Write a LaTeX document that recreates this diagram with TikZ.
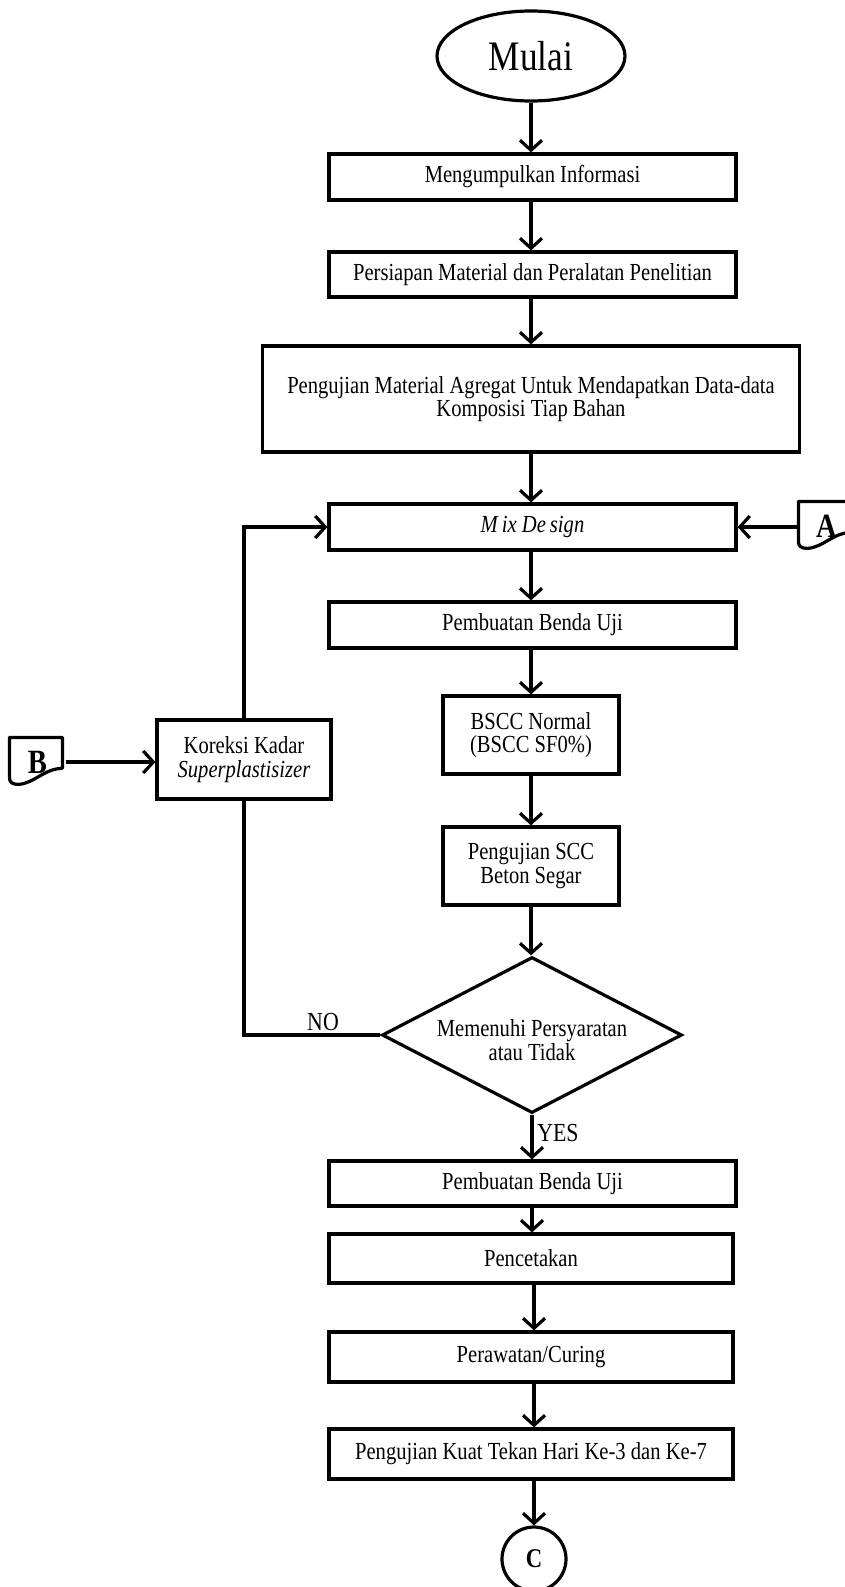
\documentclass[tikz,border=0pt]{standalone}
\usepackage{fontspec}
\setmainfont{Liberation Serif}[FakeStretch=0.84]
\usetikzlibrary{shapes.geometric,arrows.meta}
\begin{document}
\begin{tikzpicture}[x=1pt,y=-1pt,line width=3.2pt,
  txt/.style={font=\fontsize{24.5}{23.5}\selectfont, align=center},
  box/.style={draw, rectangle, inner sep=0pt, txt},
  arr/.style={-{Straight Barb[length=10pt,width=22pt]}},
  lbl/.style={font=\fontsize{26}{26}\selectfont, inner sep=0pt},
  conn/.style={font=\bfseries\fontsize{34}{34}\selectfont, inner sep=0pt, minimum width=53pt, minimum height=46pt}
  ]
\useasboundingbox (0,0) rectangle (845,1587);

\node[draw, ellipse, inner sep=0pt, minimum width=188pt, minimum height=90pt,
      font=\fontsize{42}{42}\selectfont] (mulai) at (531,56) {Mulai};
\node[box, minimum width=407pt, minimum height=46pt] (info) at (532.5,177) {Mengumpulkan Informasi};
\node[box, minimum width=407pt, minimum height=45pt] (prep) at (532.5,274.5) {Persiapan Material dan Peralatan Penelitian};
\node[box, minimum width=537pt, minimum height=106pt] (uji) at (531,399) {Pengujian Material Agregat Untuk Mendapatkan Data-data\\Komposisi Tiap Bahan};
\node[box, minimum width=407pt, minimum height=46pt] (mix) at (532.5,527) {\textit{M\,ix De\,sign}};
\node[box, minimum width=407pt, minimum height=46pt] (buat1) at (532.5,625) {Pembuatan Benda Uji};
\node[box, minimum width=176pt, minimum height=78pt] (bscc) at (531,735) {BSCC Normal\\(BSCC SF0\%)};
\node[box, minimum width=176pt, minimum height=78pt] (scc) at (531,866) {Pengujian SCC\\Beton Segar};
\node[draw, diamond, inner sep=0pt, minimum width=300pt, minimum height=156pt] (dec) at (532,1035) {};
\node[txt, inner sep=0pt] (dectxt) at (532,1040) {Memenuhi Persyaratan\\atau Tidak};
\node[box, minimum width=407pt, minimum height=45pt] (buat2) at (532.5,1183.5) {Pembuatan Benda Uji};
\node[box, minimum width=404pt, minimum height=49pt] (cetak) at (531,1258.5) {Pencetakan};
\node[box, minimum width=404pt, minimum height=50pt] (rawat) at (531,1357) {Perawatan/Curing};
\node[box, minimum width=404pt, minimum height=50pt] (kuat) at (531,1454) {Pengujian Kuat Tekan Hari Ke-3 dan Ke-7};
\node[draw, circle, inner sep=0pt, minimum size=64pt,
      font=\bfseries\fontsize{27}{27}\selectfont] (C) at (534,1559) {C};

\node[box, minimum width=174pt, minimum height=79pt] (kor) at (244,759.5) {Koreksi Kadar\\\textit{Superplastisizer}};

% off-page connectors
\node[conn] (A) at (826.5,526) {A};
\draw[line join=round] [shift={(A.north west)}] (0,0) -- (0,40) .. controls (0,45) and (3,47) .. (9,47) .. controls (25,46) and (35,31) .. (53,31) -- (53,0) -- cycle;
\node[conn] (B) at (37.5,762) {B};
\draw[line join=round] [shift={(B.north west)}] (0,0) -- (0,40) .. controls (0,45) and (3,47) .. (9,47) .. controls (25,46) and (35,31) .. (53,31) -- (53,0) -- cycle;

% main flow
\draw[arr] (mulai.south) -- (mulai.south |- info.north);
\draw[arr] (info.south -| mulai.south) -- (mulai.south |- prep.north);
\draw[arr] (prep.south -| mulai.south) -- (mulai.south |- uji.north);
\draw[arr] (uji.south -| mulai.south) -- (mulai.south |- mix.north);
\draw[arr] (mix.south -| mulai.south) -- (mulai.south |- buat1.north);
\draw[arr] (buat1.south -| mulai.south) -- (mulai.south |- bscc.north);
\draw[arr] (bscc.south) -- (bscc.south |- scc.north);
\draw[arr] (scc.south) -- (scc.south |- dec.north);
\draw[arr] (dec.south) -- (dec.south |- buat2.north);
\draw[arr] (buat2.south -| dec.south) -- (dec.south |- cetak.north);
\draw[arr] (cetak.south -| C.north) -- (C.north |- rawat.north);
\draw[arr] (rawat.south -| C.north) -- (C.north |- kuat.north);
\draw[arr] (kuat.south -| C.north) -- (C.north);

% loop
\draw (dec.west) -| (kor.south);
\draw[arr] (kor.north) |- (mix.west);
\draw[arr] (B.east) -- (B.east -| kor.west);
\draw[arr] (A.west |- mix.east) -- (mix.east);

\node[lbl] (no) at (323,1022) {NO};
\node[lbl] (yes) at (558,1133) {YES};
\end{tikzpicture}
\end{document}
